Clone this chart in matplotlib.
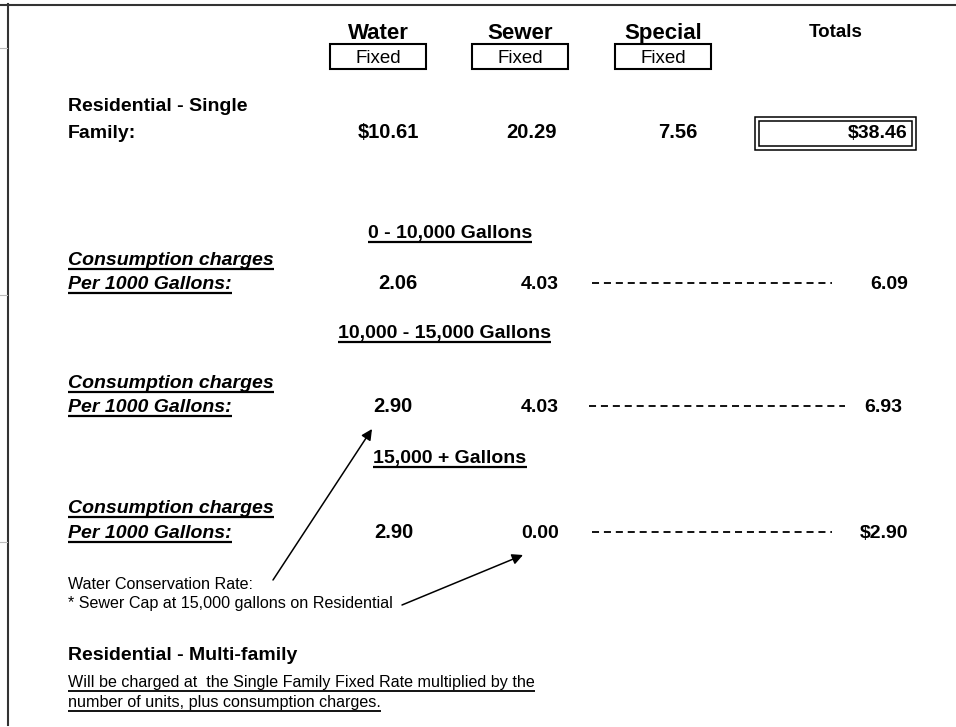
import matplotlib
matplotlib.use('Agg')
import matplotlib.pyplot as plt
from matplotlib.patches import Rectangle

plt.rcParams['font.family'] = ['Liberation Sans', 'DejaVu Sans']

# Datos de la tabla de tarifas
columns = ['Water', 'Sewer', 'Special']
fixed_rates = [10.61, 20.29, 7.56]
fixed_total = 38.46
tier_labels = ['0 - 10,000 Gallons', '10,000 - 15,000 Gallons', '15,000 + Gallons']
water_rates = [2.06, 2.90, 2.90]
sewer_rates = [4.03, 4.03, 0.00]
tier_totals = [6.09, 6.93, 2.90]
total_prefix = ['', '', '$']
notes = ['Water Conservation Rate:', '* Sewer Cap at 15,000 gallons on Residential']
multi_lines = ['Will be charged at  the Single Family Fixed Rate multiplied by the',
               'number of units, plus consumption charges.']

fig = plt.figure(figsize=(9.56, 7.27), dpi=100)
ax = fig.add_axes([0, 0, 1, 1])
ax.set_xlim(0, 956)
ax.set_ylim(727, 0)
ax.axis('off')

# bordes
ax.plot([0, 956], [5, 5], color='#333333', lw=1.5)
ax.plot([8, 8], [4, 725], color='#333333', lw=1.5)
for yy in [48, 295, 542]:
    ax.plot([0, 7], [yy, yy], color='#bbbbbb', lw=0.8)

underlines = []


def txt(x, y, s, ul=None, ul_lw=1.5, **kw):
    t = ax.text(x, y, s, va='baseline', **kw)
    if ul is not None:
        underlines.append((t, ul, ul_lw))
    return t


# encabezados
head_x = [378, 520, 663]
for i, c in enumerate(columns):
    txt(head_x[i], 39, c, ha='center', fontsize=16, fontweight='bold')
    ax.add_patch(Rectangle((head_x[i] - 48, 44), 96, 25, fill=False, lw=1.5, ec='black'))
    txt(head_x[i], 63, 'Fixed', ha='center', fontsize=13.5)
txt(836, 37, 'Totals', ha='center', fontsize=13.5, fontweight='bold')

# fila fija
txt(68, 111, 'Residential - Single', fontsize=14, fontweight='bold')
txt(68, 138, 'Family:', fontsize=14, fontweight='bold')
fix_x = [388, 531.5, 678]
for i, v in enumerate(fixed_rates):
    s = ('$' if i == 0 else '') + f'{v:.2f}'
    txt(fix_x[i], 138, s, ha='center', fontsize=14.5, fontweight='bold')
ax.add_patch(Rectangle((755, 117), 161, 33, fill=False, lw=1.1, ec='black'))
ax.add_patch(Rectangle((759, 121), 153, 25, fill=False, lw=1.1, ec='black'))
txt(908, 138, f'${fixed_total:.2f}', ha='right', fontsize=14, fontweight='bold')

# tramos de consumo
tier_y = [238, 338, 463]
tier_x = [450, 445, 450]
cons_y = [265, 388, 513]
per_y = [289, 412, 538]
water_x = [398, 393, 394]
dash_x = [(592, 832), (589, 845), (592, 832)]
tot_x = [908, 902, 908]
for i in range(3):
    txt(tier_x[i], tier_y[i], tier_labels[i], ul=tier_y[i] + 4, ul_lw=1.6,
        ha='center', fontsize=14, fontweight='bold')
    txt(68, cons_y[i], 'Consumption charges', ul=cons_y[i] + 3.5, ul_lw=1.6,
        fontsize=14, fontweight='bold', style='italic')
    txt(68, per_y[i], 'Per 1000 Gallons:', ul=per_y[i] + 3.5, ul_lw=1.6,
        fontsize=14, fontweight='bold', style='italic')
    txt(water_x[i], per_y[i], f'{water_rates[i]:.2f}', ha='center', fontsize=14.5, fontweight='bold')
    txt(540, per_y[i], f'{sewer_rates[i]:.2f}', ha='center', fontsize=14, fontweight='bold')
    ax.plot(dash_x[i], [per_y[i] - 6, per_y[i] - 6], color='black', lw=1.3,
            linestyle=(0, (3.9, 2.7)))
    txt(tot_x[i], per_y[i], total_prefix[i] + f'{tier_totals[i]:.2f}', ha='right',
        fontsize=14, fontweight='bold')

# notas
txt(68, 589, notes[0], fontsize=11.6)
txt(68, 608, notes[1], fontsize=11.6)
ax.annotate('', xy=(372, 429), xytext=(273, 580),
            arrowprops=dict(arrowstyle='-|>', color='black', lw=1.1, mutation_scale=16,
                            shrinkA=0, shrinkB=0))
ax.annotate('', xy=(523, 555), xytext=(402, 605),
            arrowprops=dict(arrowstyle='-|>', color='black', lw=1.1, mutation_scale=16,
                            shrinkA=0, shrinkB=0))

txt(68, 660, 'Residential - Multi-family', fontsize=14, fontweight='bold')
txt(68, 687, multi_lines[0], ul=690.5, ul_lw=1.3, fontsize=11.6)
txt(68, 707, multi_lines[1], ul=711, ul_lw=1.3, fontsize=11.6)

# subrayados
fig.canvas.draw()
r = fig.canvas.get_renderer()
inv = ax.transData.inverted()
for t, uy, lw in underlines:
    bb = t.get_window_extent(r)
    x0 = inv.transform((bb.x0, bb.y0))[0]
    x1 = inv.transform((bb.x1, bb.y0))[0]
    ax.plot([x0, x1], [uy, uy], color='black', lw=lw, solid_capstyle='butt')

fig.savefig('out.png', dpi=100)
